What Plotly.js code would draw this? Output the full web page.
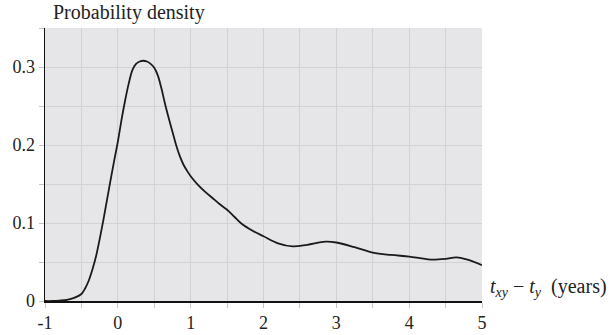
<!DOCTYPE html>
<html>
<head>
<meta charset="utf-8">
<script src="https://cdn.plot.ly/plotly-3.0.1.min.js"></script>
<style>html,body{margin:0;padding:0;background:#fff;}#chart{width:611px;height:335px;}</style>
</head>
<body>
<div id="chart"></div>
<script>
const xValues = [-1.0, -0.9, -0.8, -0.7, -0.6, -0.5, -0.45, -0.4, -0.35, -0.3, -0.25, -0.2, -0.15, -0.1, -0.05, 0.0, 0.05, 0.1, 0.15, 0.2, 0.25, 0.3, 0.35, 0.4, 0.45, 0.5, 0.55, 0.6, 0.65, 0.7, 0.75, 0.8, 0.85, 0.9, 0.95, 1.0, 1.1, 1.2, 1.3, 1.4, 1.5, 1.6, 1.7, 1.85, 2.0, 2.2, 2.4, 2.6, 2.85, 3.0, 3.25, 3.5, 3.75, 4.0, 4.15, 4.3, 4.5, 4.65, 4.8, 5.0];
const density = [0.0, 0.0, 0.0005, 0.0015, 0.004, 0.009, 0.016, 0.026, 0.040, 0.057, 0.079, 0.103, 0.129, 0.155, 0.180, 0.204, 0.232, 0.257, 0.279, 0.296, 0.304, 0.307, 0.308, 0.307, 0.304, 0.299, 0.289, 0.272, 0.252, 0.234, 0.217, 0.200, 0.186, 0.175, 0.167, 0.160, 0.149, 0.140, 0.132, 0.124, 0.117, 0.108, 0.099, 0.090, 0.083, 0.074, 0.070, 0.072, 0.076, 0.075, 0.069, 0.062, 0.059, 0.057, 0.055, 0.053, 0.054, 0.056, 0.053, 0.046];
const xTickVals = [-1, 0, 1, 2, 3, 4, 5];
const xTickText = ["-1", "0", "1", "2", "3", "4", "5"];
const yTickVals = [0, 0.1, 0.2, 0.3];
const yTickText = ["0", "0.1", "0.2", "0.3"];

const FONT = "Liberation Serif";
const GRID = "#d2d2d5";
const TICKC = "#c4c4c7";

Plotly.newPlot("chart", [{
  x: xValues, y: density, type: "scatter", mode: "lines",
  line: {color: "#1a1a1a", width: 1.8, shape: "spline", smoothing: 1},
  hoverinfo: "skip"
}], {
  width: 611, height: 335,
  margin: {l: 45, r: 129, t: 28, b: 34},
  paper_bgcolor: "#ffffff", plot_bgcolor: "#e6e6e9",
  showlegend: false,
  font: {family: FONT, size: 18, color: "#222"},
  xaxis: {
    range: [-1, 5], tickmode: "array", tickvals: xTickVals, ticktext: xTickText,
    showgrid: true, gridcolor: GRID, gridwidth: 1, zeroline: false,
    showline: true, linecolor: "#111", linewidth: 1.5,
    ticks: "outside", ticklen: 5, tickcolor: TICKC, tickwidth: 1,
    minor: {dtick: 0.5, tick0: 0, showgrid: true, gridcolor: GRID, gridwidth: 1, ticks: "outside", ticklen: 5, tickcolor: TICKC},
    tickfont: {family: FONT, size: 18, color: "#222"}, fixedrange: true
  },
  yaxis: {
    range: [0, 0.35], tickmode: "array", tickvals: yTickVals, ticktext: yTickText,
    showgrid: true, gridcolor: GRID, gridwidth: 1, zeroline: false,
    showline: true, linecolor: "#111", linewidth: 1.5,
    ticks: "outside", ticklen: 5, tickcolor: TICKC, tickwidth: 1,
    minor: {dtick: 0.05, tick0: 0, showgrid: true, gridcolor: GRID, gridwidth: 1, ticks: "outside", ticklen: 5, tickcolor: TICKC},
    tickfont: {family: FONT, size: 18, color: "#222"}, fixedrange: true
  },
  annotations: [
    {text: "Probability density", xref: "paper", yref: "paper", x: 0, y: 1, xanchor: "left", yanchor: "middle",
     xshift: 6, yshift: 16, showarrow: false, font: {family: FONT, size: 20, color: "#222"}},
    {text: "<i>t</i><sub><i>xy</i></sub>\u00a0\u2212\u00a0<i>t</i><sub><i>y</i></sub>\u00a0\u00a0(years)", xref: "paper", yref: "paper", x: 1, y: 0,
     xanchor: "left", yanchor: "middle", xshift: 6, yshift: 14, showarrow: false, font: {family: FONT, size: 20, color: "#222"}}
  ]
}, {staticPlot: true});
</script>
</body>
</html>
